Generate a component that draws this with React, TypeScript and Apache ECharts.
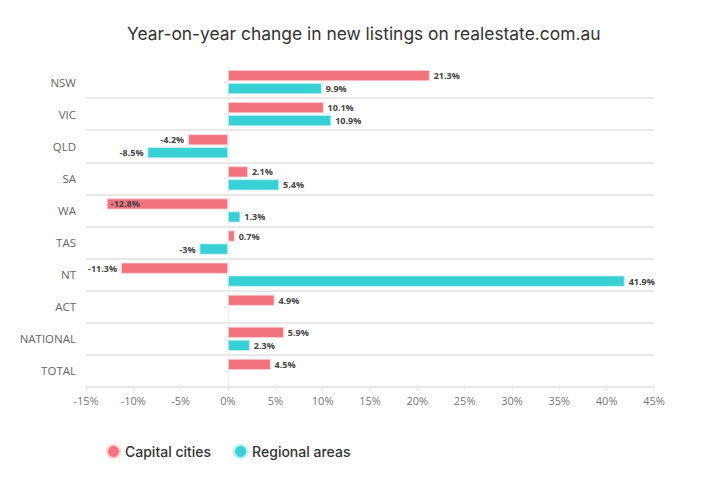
import React, { useEffect, useRef } from "react";
import * as echarts from "echarts";

const categories = ["NSW", "VIC", "QLD", "SA", "WA", "TAS", "NT", "ACT", "NATIONAL", "TOTAL"];
const capitalCities: (number | null)[] = [21.3, 10.1, -4.2, 2.1, -12.8, 0.7, -11.3, 4.9, 5.9, 4.5];
const regionalAreas: (number | null)[] = [9.9, 10.9, -8.5, 5.4, 1.3, -3, 41.9, null, 2.3, null];
const xTicks = { min: -15, max: 45, interval: 5 };
const insideLabelIndex = 4; // WA capital label sits inside the bar

const PINK = "#f2727e";
const TEAL = "#37d0d5";
const FONT = "'Open Sans', sans-serif";

function toData(vals: (number | null)[], insideIdx: number | null) {
  return vals.map((v, i) => {
    if (v === null) return null;
    const pos = i === insideIdx ? "insideLeft" : v < 0 ? "left" : "right";
    return { value: v, label: { position: pos } };
  });
}

export default function App() {
  const ref = useRef<HTMLDivElement>(null);
  useEffect(() => {
    if (!ref.current) return;
    const chart = echarts.init(ref.current, null, { renderer: "svg" });
    const labelCommon = {
      show: true,
      formatter: (p: any) => `${p.value}%`,
      fontSize: 9,
      fontWeight: "bold",
      color: "#444",
      fontFamily: FONT,
      distance: 4,
    };
    chart.setOption({
      animation: false,
      backgroundColor: "#fff",
      title: {
        text: "Year-on-year change in new listings on realestate.com.au",
        left: 122,
        top: 20,
        textStyle: { fontSize: 17.4, fontWeight: "normal", color: "#333", fontFamily: "Inter, sans-serif" },
      },
      legend: {
        left: 101,
        top: 439,
        icon: "circle",
        itemWidth: 13,
        itemHeight: 13,
        itemGap: 22,
        textStyle: { fontSize: 14, color: "#333", fontWeight: 500, fontFamily: "Inter, sans-serif" },
        data: ["Capital cities", "Regional areas"],
      },
      grid: { left: 86, right: 54, top: 66, bottom: 90, containLabel: false },
      xAxis: {
        type: "value",
        min: xTicks.min,
        max: xTicks.max,
        interval: xTicks.interval,
        axisLabel: { formatter: (v: number) => `${v}%`, color: "#777", fontSize: 11, fontFamily: FONT, margin: 8 },
        axisLine: { show: true, lineStyle: { color: "#e6e6e6", width: 1.5 } },
        axisTick: { show: true, length: 4, lineStyle: { color: "#e6e6e6" } },
        splitLine: { show: false },
      },
      yAxis: {
        type: "category",
        data: categories,
        inverse: true,
        axisLabel: { color: "#666", fontSize: 11.5, fontFamily: FONT, margin: 10 },
        axisLine: { show: true, lineStyle: { color: "#ededed", width: 1 } },
        axisTick: { show: true, alignWithLabel: true, length: 4, lineStyle: { color: "#e6e6e6" } },
        splitLine: {
          show: true,
          interval: (index: number) => index !== 0,
          lineStyle: { color: "#e2e2e2", width: 1.5 },
        },
      },
      series: [
        {
          name: "Capital cities",
          type: "bar",
          data: toData(capitalCities, insideLabelIndex),
          barWidth: 11,
          barGap: "18%",
          itemStyle: { color: PINK, borderColor: "#fbd0d4", borderWidth: 0.8 },
          label: labelCommon,
        },
        {
          name: "Regional areas",
          type: "bar",
          data: toData(regionalAreas, null),
          barWidth: 11,
          itemStyle: { color: TEAL, borderColor: "#b8eef0", borderWidth: 0.8 },
          label: labelCommon,
        },
      ],
    });
    return () => chart.dispose();
  }, []);
  return (
    <div
      ref={ref}
      style={{ position: "fixed", left: 0, top: 0, width: 708, height: 477 }}
    />
  );
}
